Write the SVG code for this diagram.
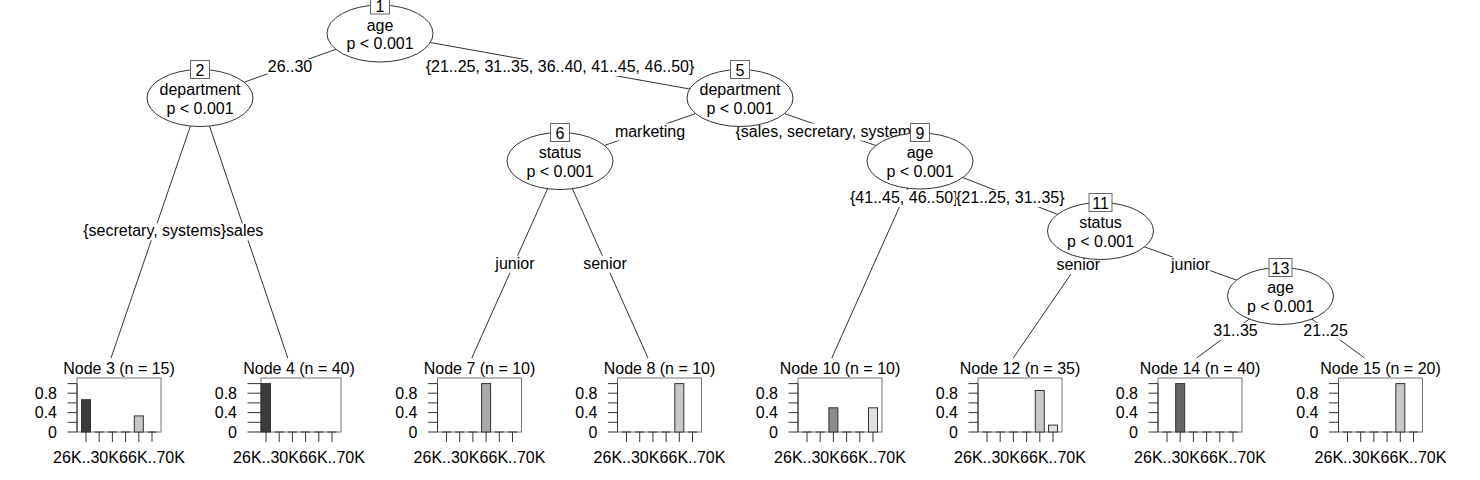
<svg xmlns="http://www.w3.org/2000/svg" width="1480" height="480" viewBox="0 0 1480 480">
<style>
text { font-family: "Liberation Sans", Arial, Helvetica, sans-serif; font-size: 16px; fill: #000; text-anchor: middle; }
text.r { text-anchor: end; }
.e { stroke: #333; stroke-width: 1; fill: none; }
.lb { fill: #fff; stroke: none; }
.ell { fill: #fff; stroke: #333; stroke-width: 1; }
.id { fill: #fff; stroke: #666; stroke-width: 1; }
.fr { fill: none; stroke: #777; stroke-width: 1; }
.ax { fill: none; stroke: #333; stroke-width: 1; }
.bar { stroke: #333; stroke-width: 1; }
.c1 { fill: #3b3b3b; } .c2 { fill: #666666; } .c3 { fill: #8c8c8c; }
.c4 { fill: #aaaaaa; } .c5 { fill: #c8c8c8; } .c6 { fill: #e0e0e0; }
</style>

<g id="connectors">
  <line class="e" x1="380" y1="33.5" x2="200" y2="98"/>
  <line class="e" x1="380" y1="33.5" x2="740" y2="98"/>
  <line class="e" x1="200" y1="98" x2="111" y2="358"/>
  <line class="e" x1="200" y1="98" x2="287.8" y2="358"/>
  <line class="e" x1="740" y1="98" x2="560" y2="161"/>
  <line class="e" x1="740" y1="98" x2="920" y2="161"/>
  <line class="e" x1="560" y1="161" x2="471.8" y2="358"/>
  <line class="e" x1="560" y1="161" x2="648" y2="358"/>
  <line class="e" x1="920" y1="161" x2="831.8" y2="358"/>
  <line class="e" x1="920" y1="161" x2="1100.5" y2="231"/>
  <line class="e" x1="1100.5" y1="231" x2="1013.3" y2="358"/>
  <line class="e" x1="1100.5" y1="231" x2="1280.5" y2="296"/>
  <line class="e" x1="1280.5" y1="296" x2="1196.6" y2="358"/>
  <line class="e" x1="1280.5" y1="296" x2="1364.5" y2="358"/>

  <rect class="lb" x="267.5" y="59" width="45" height="17"/>
  <text x="290" y="72">26..30</text>
  <rect class="lb" x="425.5" y="59" width="269" height="17"/>
  <text x="560" y="72">{21..25, 31..35, 36..40, 41..45, 46..50}</text>
  <rect class="lb" x="82.5" y="223.3" width="144.5" height="17"/>
  <text x="154.7" y="236.3">{secretary, systems}</text>
  <rect class="lb" x="226" y="223.3" width="37.5" height="17"/>
  <text x="244.7" y="236.3">sales</text>
  <rect class="lb" x="614.8" y="123.5" width="70.5" height="17"/>
  <text x="650" y="136.5">marketing</text>
  <rect class="lb" x="734.8" y="123.5" width="190.5" height="17"/>
  <text x="830" y="136.5">{sales, secretary, systems}</text>
  <rect class="lb" x="495.3" y="255.8" width="39.2" height="17"/>
  <text x="514.9" y="268.8">junior</text>
  <rect class="lb" x="583.2" y="255.8" width="43.8" height="17"/>
  <text x="605" y="268.8">senior</text>
  <rect class="lb" x="850" y="190" width="108.6" height="17"/>
  <text x="904.3" y="203">{41..45, 46..50}</text>
  <rect class="lb" x="956" y="190" width="108.6" height="17"/>
  <text x="1010.3" y="203">{21..25, 31..35}</text>
  <rect class="lb" x="1056.4" y="257" width="43.8" height="17"/>
  <text x="1078.2" y="270">senior</text>
  <rect class="lb" x="1170.9" y="257" width="39.2" height="17"/>
  <text x="1190.5" y="270">junior</text>
  <rect class="lb" x="1213.2" y="322.8" width="44.6" height="17"/>
  <text x="1235.5" y="335.8">31..35</text>
  <rect class="lb" x="1303.3" y="322.8" width="44.6" height="17"/>
  <text x="1325.6" y="335.8">21..25</text>
</g>

<g id="node1">
  <ellipse class="ell" cx="380" cy="33.5" rx="53" ry="28.5"/>
  <text x="380" y="30.5">age</text>
  <text x="380" y="49">p &lt; 0.001</text>
  <rect class="id" x="370.5" y="-4" width="19" height="18"/>
  <text x="380" y="12">1</text>
</g>
<g id="node2">
  <ellipse class="ell" cx="200" cy="98" rx="53" ry="28.5"/>
  <text x="200" y="95">department</text>
  <text x="200" y="113.5">p &lt; 0.001</text>
  <rect class="id" x="190.5" y="60.5" width="19" height="18"/>
  <text x="200" y="75.5">2</text>
</g>
<g id="node5">
  <ellipse class="ell" cx="740" cy="98" rx="53" ry="28.5"/>
  <text x="740" y="95">department</text>
  <text x="740" y="113.5">p &lt; 0.001</text>
  <rect class="id" x="730.5" y="60.5" width="19" height="18"/>
  <text x="740" y="75.5">5</text>
</g>
<g id="node6">
  <ellipse class="ell" cx="560" cy="161" rx="53" ry="28.5"/>
  <text x="560" y="158">status</text>
  <text x="560" y="176.5">p &lt; 0.001</text>
  <rect class="id" x="550.5" y="123.5" width="19" height="18"/>
  <text x="560" y="138.5">6</text>
</g>
<g id="node9">
  <ellipse class="ell" cx="920" cy="161" rx="53" ry="28"/>
  <text x="920" y="158">age</text>
  <text x="920" y="176.5">p &lt; 0.001</text>
  <rect class="id" x="910.5" y="123.5" width="19" height="18"/>
  <text x="920" y="138.5">9</text>
</g>
<g id="node11">
  <ellipse class="ell" cx="1100.5" cy="231" rx="53" ry="28.5"/>
  <text x="1100.5" y="228">status</text>
  <text x="1100.5" y="246.5">p &lt; 0.001</text>
  <rect class="id" x="1089" y="193.5" width="23" height="18"/>
  <text x="1100.5" y="208.5">11</text>
</g>
<g id="node13">
  <ellipse class="ell" cx="1280.5" cy="296" rx="53" ry="28.5"/>
  <text x="1280.5" y="293">age</text>
  <text x="1280.5" y="311.5">p &lt; 0.001</text>
  <rect class="id" x="1269" y="258.5" width="23" height="18"/>
  <text x="1280.5" y="273.5">13</text>
</g>

<g id="node3">
  <text x="119" y="374">Node 3 (n = 15)</text>
  <rect class="fr" x="77" y="378" width="84" height="54"/>
  <path class="ax" d="M77 383.6V432M67.5 432H77M67.5 422.3H77M67.5 412.6H77M67.5 402.9H77M67.5 393.2H77M67.5 383.6H77"/>
  <text class="r" x="57" y="437.5">0</text><text class="r" x="57" y="418.1">0.4</text><text class="r" x="57" y="398.7">0.8</text>
  <path class="ax" d="M86 432V442M99.2 432V442M112.4 432V442M125.6 432V442M138.8 432V442M152 432V442"/>
  <path class="ax" d="M94.7 432H103.7M107.9 432H116.9M121.1 432H130.1M147.5 432H156.5"/>
  <rect class="bar c1" x="81.5" y="399.7" width="9" height="32.3"/>
  <rect class="bar c5" x="134.3" y="415.9" width="9" height="16.1"/>
  <text x="86" y="463">26K..30K</text><text x="152" y="463">66K..70K</text>
</g>
<g id="node4">
  <text x="299" y="374">Node 4 (n = 40)</text>
  <rect class="fr" x="261" y="378" width="80" height="54"/>
  <path class="ax" d="M261 383.6V432M247.5 432H261M247.5 422.3H261M247.5 412.6H261M247.5 402.9H261M247.5 393.2H261M247.5 383.6H261"/>
  <text class="r" x="237" y="437.5">0</text><text class="r" x="237" y="418.1">0.4</text><text class="r" x="237" y="398.7">0.8</text>
  <path class="ax" d="M266 432V442M279.2 432V442M292.4 432V442M305.6 432V442M318.8 432V442M332 432V442"/>
  <path class="ax" d="M274.7 432H283.7M287.9 432H296.9M301.1 432H310.1M314.3 432H323.3M327.5 432H336.5"/>
  <rect class="bar c1" x="261.5" y="383.6" width="9" height="48.4"/>
  <text x="266" y="463">26K..30K</text><text x="332" y="463">66K..70K</text>
</g>
<g id="node7">
  <text x="479.5" y="374">Node 7 (n = 10)</text>
  <rect class="fr" x="437.5" y="378" width="84" height="54"/>
  <path class="ax" d="M437.5 383.6V432M428 432H437.5M428 422.3H437.5M428 412.6H437.5M428 402.9H437.5M428 393.2H437.5M428 383.6H437.5"/>
  <text class="r" x="417.5" y="437.5">0</text><text class="r" x="417.5" y="418.1">0.4</text><text class="r" x="417.5" y="398.7">0.8</text>
  <path class="ax" d="M446.5 432V442M459.7 432V442M472.9 432V442M486.1 432V442M499.3 432V442M512.5 432V442"/>
  <path class="ax" d="M442 432H451M455.2 432H464.2M468.4 432H477.4M494.8 432H503.8M508 432H517"/>
  <rect class="bar c4" x="481.6" y="383.6" width="9" height="48.4"/>
  <text x="446.5" y="463">26K..30K</text><text x="512.5" y="463">66K..70K</text>
</g>
<g id="node8">
  <text x="659.5" y="374">Node 8 (n = 10)</text>
  <rect class="fr" x="617.5" y="378" width="84" height="54"/>
  <path class="ax" d="M617.5 383.6V432M608 432H617.5M608 422.3H617.5M608 412.6H617.5M608 402.9H617.5M608 393.2H617.5M608 383.6H617.5"/>
  <text class="r" x="597.5" y="437.5">0</text><text class="r" x="597.5" y="418.1">0.4</text><text class="r" x="597.5" y="398.7">0.8</text>
  <path class="ax" d="M626.5 432V442M639.7 432V442M652.9 432V442M666.1 432V442M679.3 432V442M692.5 432V442"/>
  <path class="ax" d="M622 432H631M635.2 432H644.2M648.4 432H657.4M661.6 432H670.6M688 432H697"/>
  <rect class="bar c5" x="674.8" y="383.6" width="9" height="48.4"/>
  <text x="626.5" y="463">26K..30K</text><text x="692.5" y="463">66K..70K</text>
</g>
<g id="node10">
  <text x="840" y="374">Node 10 (n = 10)</text>
  <rect class="fr" x="798" y="378" width="84" height="54"/>
  <path class="ax" d="M798 383.6V432M788.5 432H798M788.5 422.3H798M788.5 412.6H798M788.5 402.9H798M788.5 393.2H798M788.5 383.6H798"/>
  <text class="r" x="778" y="437.5">0</text><text class="r" x="778" y="418.1">0.4</text><text class="r" x="778" y="398.7">0.8</text>
  <path class="ax" d="M807 432V442M820.2 432V442M833.4 432V442M846.6 432V442M859.8 432V442M873 432V442"/>
  <path class="ax" d="M802.5 432H811.5M815.7 432H824.7M842.1 432H851.1M855.3 432H864.3"/>
  <rect class="bar c3" x="828.9" y="407.8" width="9" height="24.2"/>
  <rect class="bar c6" x="868.5" y="407.8" width="9" height="24.2"/>
  <text x="807" y="463">26K..30K</text><text x="873" y="463">66K..70K</text>
</g>
<g id="node12">
  <text x="1020" y="374">Node 12 (n = 35)</text>
  <rect class="fr" x="978" y="378" width="84" height="54"/>
  <path class="ax" d="M978 383.6V432M968.5 432H978M968.5 422.3H978M968.5 412.6H978M968.5 402.9H978M968.5 393.2H978M968.5 383.6H978"/>
  <text class="r" x="958" y="437.5">0</text><text class="r" x="958" y="418.1">0.4</text><text class="r" x="958" y="398.7">0.8</text>
  <path class="ax" d="M987 432V442M1000.2 432V442M1013.4 432V442M1026.6 432V442M1039.8 432V442M1053 432V442"/>
  <path class="ax" d="M982.5 432H991.5M995.7 432H1004.7M1008.9 432H1017.9M1022.1 432H1031.1"/>
  <rect class="bar c5" x="1035.3" y="390.5" width="9" height="41.5"/>
  <rect class="bar c6" x="1048.5" y="425.1" width="9" height="6.9"/>
  <text x="987" y="463">26K..30K</text><text x="1053" y="463">66K..70K</text>
</g>
<g id="node14">
  <text x="1200" y="374">Node 14 (n = 40)</text>
  <rect class="fr" x="1158" y="378" width="84" height="54"/>
  <path class="ax" d="M1158 383.6V432M1148.5 432H1158M1148.5 422.3H1158M1148.5 412.6H1158M1148.5 402.9H1158M1148.5 393.2H1158M1148.5 383.6H1158"/>
  <text class="r" x="1138" y="437.5">0</text><text class="r" x="1138" y="418.1">0.4</text><text class="r" x="1138" y="398.7">0.8</text>
  <path class="ax" d="M1167 432V442M1180.2 432V442M1193.4 432V442M1206.6 432V442M1219.8 432V442M1233 432V442"/>
  <path class="ax" d="M1162.5 432H1171.5M1188.9 432H1197.9M1202.1 432H1211.1M1215.3 432H1224.3M1228.5 432H1237.5"/>
  <rect class="bar c2" x="1175.7" y="383.6" width="9" height="48.4"/>
  <text x="1167" y="463">26K..30K</text><text x="1233" y="463">66K..70K</text>
</g>
<g id="node15">
  <text x="1380.5" y="374">Node 15 (n = 20)</text>
  <rect class="fr" x="1338.5" y="378" width="84" height="54"/>
  <path class="ax" d="M1338.5 383.6V432M1329 432H1338.5M1329 422.3H1338.5M1329 412.6H1338.5M1329 402.9H1338.5M1329 393.2H1338.5M1329 383.6H1338.5"/>
  <text class="r" x="1318.5" y="437.5">0</text><text class="r" x="1318.5" y="418.1">0.4</text><text class="r" x="1318.5" y="398.7">0.8</text>
  <path class="ax" d="M1347.5 432V442M1360.7 432V442M1373.9 432V442M1387.1 432V442M1400.3 432V442M1413.5 432V442"/>
  <path class="ax" d="M1343 432H1352M1356.2 432H1365.2M1369.4 432H1378.4M1382.6 432H1391.6M1409 432H1418"/>
  <rect class="bar c5" x="1395.8" y="383.6" width="9" height="48.4"/>
  <text x="1347.5" y="463">26K..30K</text><text x="1413.5" y="463">66K..70K</text>
</g>
</svg>
